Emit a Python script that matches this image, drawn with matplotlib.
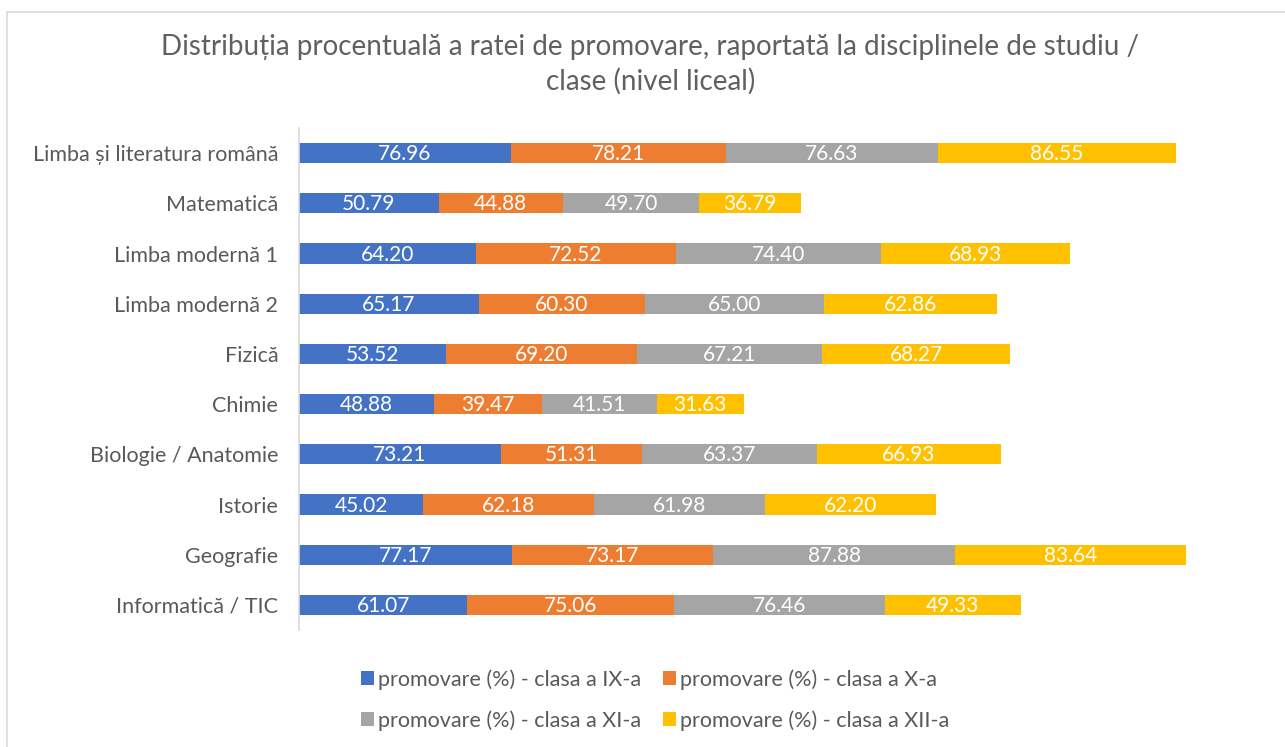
import matplotlib
matplotlib.use('Agg')
import matplotlib.pyplot as plt
from matplotlib.patches import Rectangle
import numpy as np

# data
subjects = ['Limba și literatura română', 'Matematică', 'Limba modernă 1',
            'Limba modernă 2', 'Fizică', 'Chimie', 'Biologie / Anatomie',
            'Istorie', 'Geografie', 'Informatică / TIC']
clasa_ix = [76.96, 50.79, 64.20, 65.17, 53.52, 48.88, 73.21, 45.02, 77.17, 61.07]
clasa_x = [78.21, 44.88, 72.52, 60.30, 69.20, 39.47, 51.31, 62.18, 73.17, 75.06]
clasa_xi = [76.63, 49.70, 74.40, 65.00, 67.21, 41.51, 63.37, 61.98, 87.88, 76.46]
clasa_xii = [86.55, 36.79, 68.93, 62.86, 68.27, 31.63, 66.93, 62.20, 83.64, 49.33]
series_names = ['promovare (%) - clasa a IX-a', 'promovare (%) - clasa a X-a',
                'promovare (%) - clasa a XI-a', 'promovare (%) - clasa a XII-a']
colors = ['#4472C4', '#ED7D31', '#A5A5A5', '#FFC000']

plt.rcParams['font.family'] = ['Lato', 'DejaVu Sans']
txt_color = '#595959'

fig = plt.figure(figsize=(12.85, 7.47), dpi=100)
ax = fig.add_axes([0.2327, 0.1566, 0.7503, 0.672])

# light border of the chart area
fig.patches.append(Rectangle((7 / 1285, -0.1), 1.2, 1.1 - 12 / 747,
                             transform=fig.transFigure, fill=False,
                             edgecolor='#D9D9D9', linewidth=1.2))

y = np.arange(len(subjects))
left = np.zeros(len(subjects))
handles = []
for vals, name, c in zip([clasa_ix, clasa_x, clasa_xi, clasa_xii], series_names, colors):
    vals = np.array(vals)
    bars = ax.barh(y, vals, left=left, height=0.4, color=c, label=name)
    handles.append(bars)
    for yi, l, v in zip(y, left, vals):
        ax.text(l + v / 2, yi + 0.02, f'{v:.2f}', ha='center', va='center',
                color='white', fontsize=15)
    left += vals

ax.set_xlim(0, 350)
ax.set_ylim(len(subjects) - 0.5, -0.5)
ax.set_yticks(y)
ax.set_yticklabels(subjects, fontsize=15.5, color=txt_color)
ax.tick_params(axis='y', length=0, pad=15)
ax.set_xticks([])
for s in ['top', 'right', 'bottom']:
    ax.spines[s].set_visible(False)
ax.spines['left'].set_color('#D9D9D9')
ax.spines['left'].set_linewidth(1.2)

fig.text(0.506, 0.937, 'Distribuția procentuală a ratei de promovare, raportată la disciplinele de studiu /',
         ha='center', va='center', fontsize=20, color='#606060')
fig.text(0.506, 0.891, 'clase (nivel liceal)', ha='center', va='center',
         fontsize=20, color='#606060')

order = [0, 2, 1, 3]
leg = fig.legend([handles[i] for i in order], [series_names[i] for i in order],
                 ncol=2, loc='center', bbox_to_anchor=(0.51, 0.063),
                 frameon=False, fontsize=15.5, handlelength=0.6, handleheight=0.6,
                 handletextpad=0.2, columnspacing=1.0, labelspacing=0.95)
for t in leg.get_texts():
    t.set_color(txt_color)

fig.savefig('out.png', dpi=100)
plt.close()
